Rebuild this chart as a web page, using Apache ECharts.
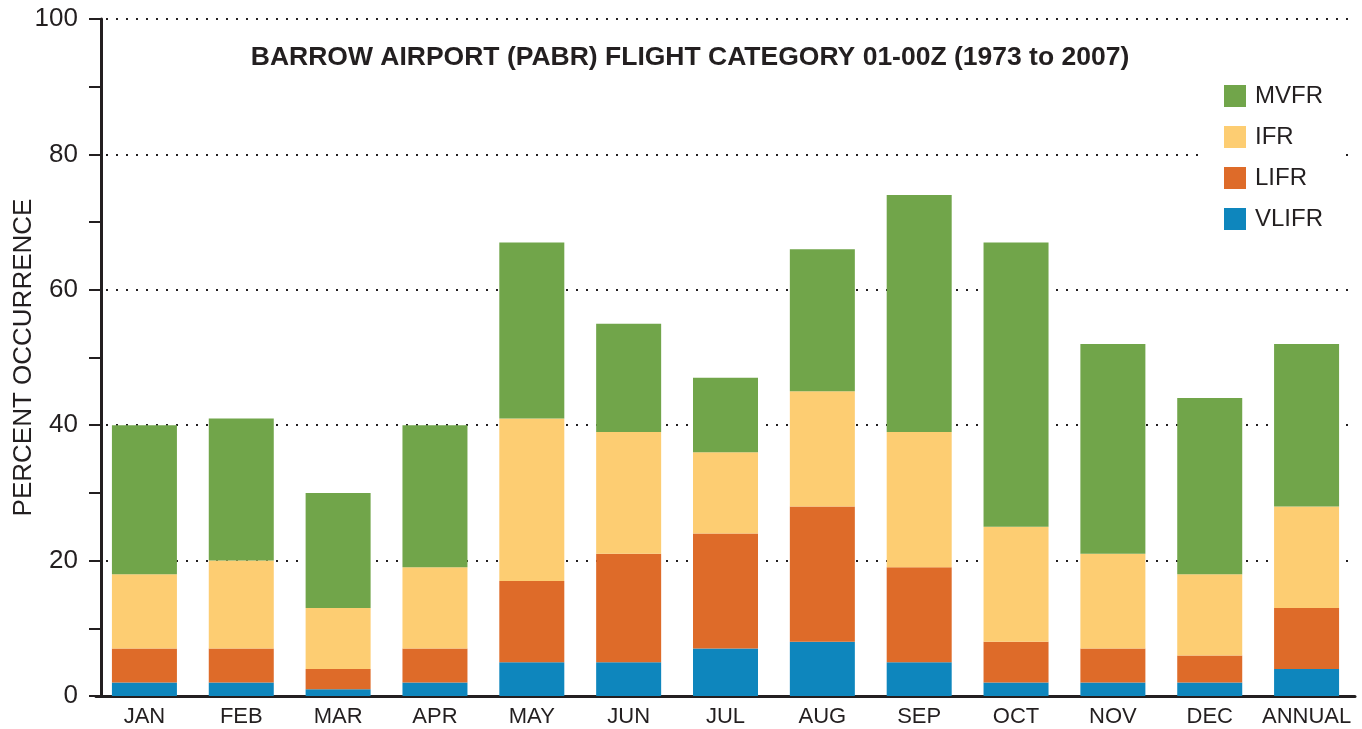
<!DOCTYPE html>
<html>
<head>
<meta charset="utf-8">
<script src="https://cdn.jsdelivr.net/npm/echarts@6/dist/echarts.min.js"></script>
<style>
  html, body { margin: 0; padding: 0; background: #fff; }
  #chart { width: 1362px; height: 729px; }
</style>
</head>
<body>
<div id="chart"></div>
<script>
  'use strict'

  var categories = ['JAN', 'FEB', 'MAR', 'APR', 'MAY', 'JUN', 'JUL', 'AUG', 'SEP', 'OCT', 'NOV', 'DEC', 'ANNUAL'];

  // percent occurrence per category (stacked from the bottom)
  var vlifr = [2, 2, 1, 2, 5, 5, 7, 8, 5, 2, 2, 2, 4];
  var lifr  = [5, 5, 3, 5, 12, 16, 17, 20, 14, 6, 5, 4, 9];
  var ifr   = [11, 13, 9, 12, 24, 18, 12, 17, 20, 17, 14, 12, 15];
  var mvfr  = [22, 21, 17, 21, 26, 16, 11, 21, 35, 42, 31, 26, 24];

  var ink = '#231f20';
  var font = 'Liberation Sans, Arial, sans-serif';

  function bar(name, data, color) {
    return {
      name: name,
      type: 'bar',
      stack: 'cat',
      barWidth: 65,
      data: data,
      itemStyle: { color: color },
      emphasis: { disabled: true }
    };
  }

  var option = {
    animation: false,
    textStyle: { fontFamily: font, color: ink },
    title: {
      text: 'BARROW AIRPORT (PABR) FLIGHT CATEGORY 01-00Z (1973 to 2007)',
      left: 685,
      textAlign: 'center',
      top: 39,
      textStyle: { fontSize: 26.5, fontWeight: 'bold', color: ink, fontFamily: font }
    },
    legend: {
      data: ['MVFR', 'IFR', 'LIFR', 'VLIFR'],
      orient: 'vertical',
      left: 1202,
      top: 79,
      padding: [5, 17, 5, 22],
      backgroundColor: '#fff',
      itemWidth: 22,
      itemHeight: 22,
      itemGap: 17,
      icon: 'rect',
      textStyle: { fontSize: 24, color: ink, fontFamily: font, padding: [0, 0, 0, 4] }
    },
    grid: {
      left: 96,
      right: 7,
      top: 19,
      bottom: 33,
      outerBoundsMode: 'none'
    },
    xAxis: {
      type: 'category',
      data: categories,
      axisLine: { lineStyle: { color: ink, width: 3 } },
      axisTick: { show: false },
      axisLabel: { fontSize: 22, color: ink, margin: 10, interval: 0, fontFamily: font }
    },
    yAxis: {
      type: 'value',
      min: 0,
      max: 100,
      interval: 20,
      offset: -5,
      name: 'PERCENT OCCURRENCE',
      nameLocation: 'middle',
      nameGap: 64,
      nameMoveOverlap: false,
      nameTextStyle: { fontSize: 26, color: ink, fontFamily: font },
      axisLine: { show: true, lineStyle: { color: ink, width: 3 } },
      axisTick: { show: true, length: 12, lineStyle: { color: ink, width: 2 } },
      minorTick: { show: true, splitNumber: 2, length: 12, lineStyle: { color: ink, width: 2 } },
      axisLabel: { fontSize: 26, color: ink, margin: 23, fontFamily: font },
      splitLine: {
        show: true,
        lineStyle: { color: ink, width: 2, type: [2, 8] }
      }
    },
    series: [
      bar('VLIFR', vlifr, '#0e86bd'),
      bar('LIFR', lifr, '#de6b29'),
      bar('IFR', ifr, '#fdcd72'),
      bar('MVFR', mvfr, '#71a54a')
    ]
  };

  var chart = echarts.init(document.getElementById('chart'));
  chart.setOption(option);
</script>
</body>
</html>
